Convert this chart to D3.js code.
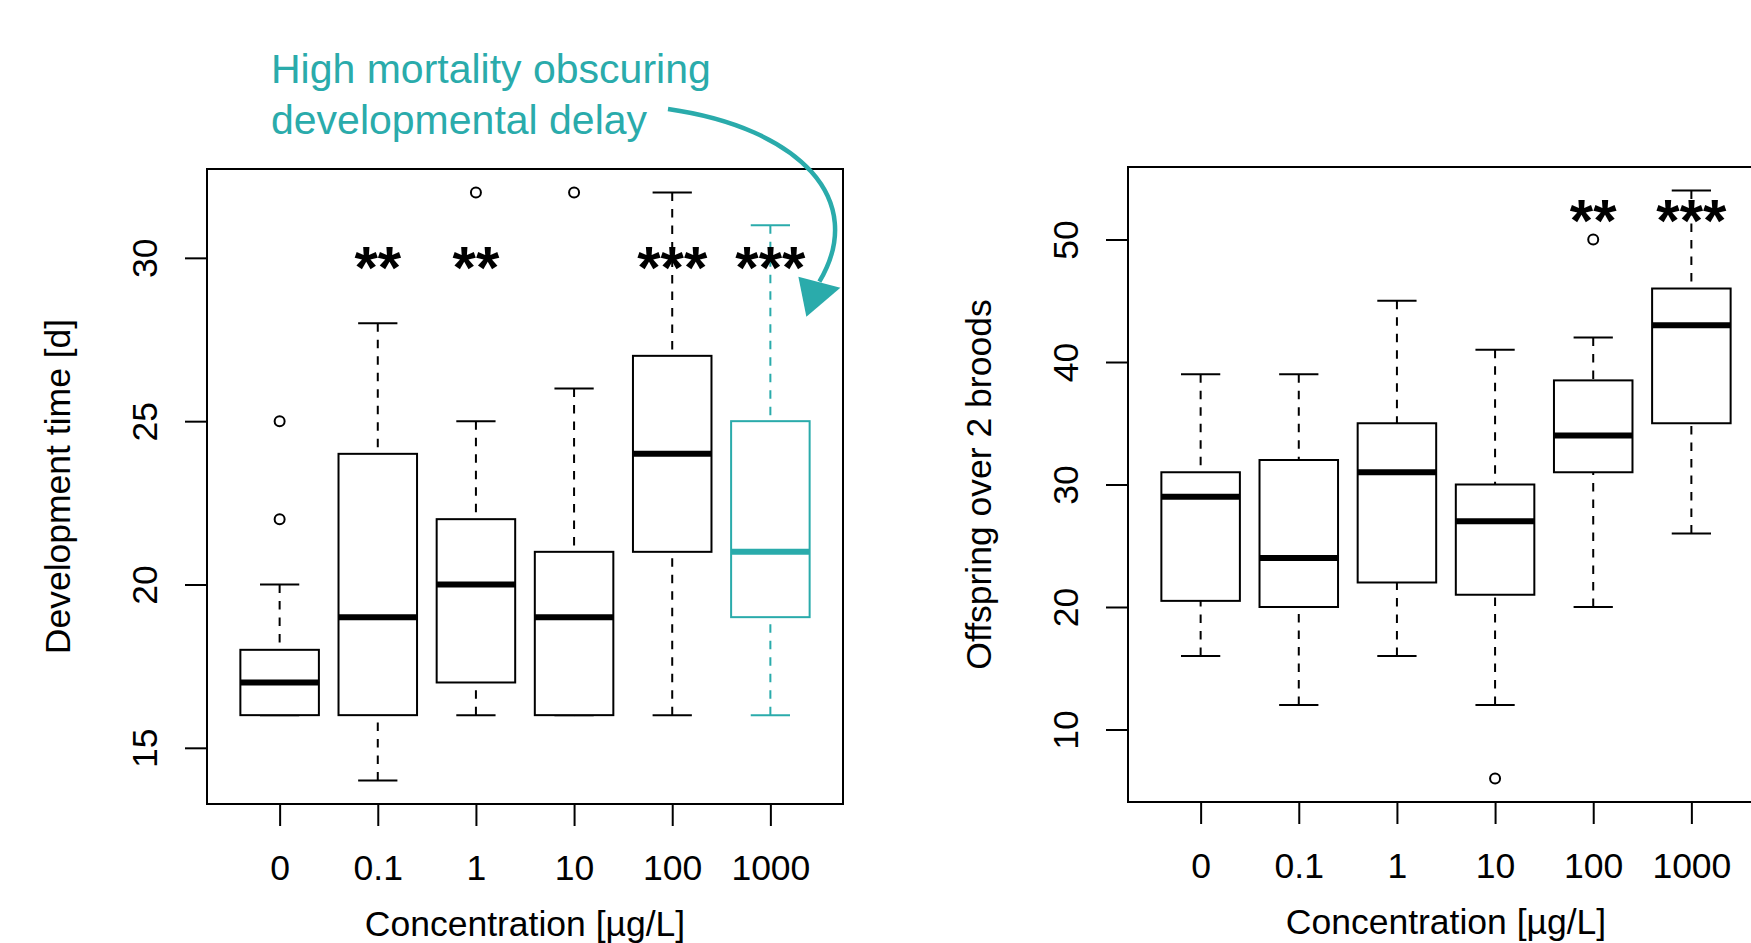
<!DOCTYPE html>
<html>
<head>
  <meta charset="utf-8">
  <title>Development time and offspring boxplots</title>
  <script src="https://cdn.jsdelivr.net/npm/d3@7/dist/d3.min.js"></script>
  <style>
    body { margin: 0; background: #fff; }
    text { font-family: "Liberation Sans", Arial, Helvetica, sans-serif; }
  </style>
</head>
<body>
<svg id="chart" width="1751" height="943"></svg>
<script>
// categories and box statistics
const concentrations = ['0', '0.1', '1', '10', '100', '1000'];

const devLow = [16, 14, 16, 16, 16, 16];
const devQ1 = [16, 16, 17, 16, 21, 19];
const devMedian = [17, 19, 20, 19, 24, 21];
const devQ3 = [18, 24, 22, 21, 27, 25];
const devHigh = [20, 28, 25, 26, 32, 31];
const devOutliers = [[22, 25], [], [32], [32], [], []];
const devStars = ['', '**', '**', '', '***', '***'];
const devTicks = [15, 20, 25, 30];

const offLow = [16, 12, 16, 12, 20, 26];
const offQ1 = [20.5, 20, 22, 21, 31, 35];
const offMedian = [29, 24, 31, 27, 34, 43];
const offQ3 = [31, 32, 35, 30, 38.5, 46];
const offHigh = [39, 39, 45, 41, 42, 54];
const offOutliers = [[], [], [], [6], [50], []];
const offStars = ['', '', '', '', '**', '***'];
const offTicks = [10, 20, 30, 40, 50];

const teal = '#2aabab';
const fontSize = 35.5;
const svg = d3.select('#chart');

function boxplot(opt) {
  const g = svg.append('g');
  const n = opt.cats.length;

  // R style axis extension: 0.5..n+0.5 padded by 4% each side
  const xr = n;
  const x = d3.scaleLinear()
    .domain([0.5 - xr * 0.04, n + 0.5 + xr * 0.04])
    .range([opt.left, opt.right]);
  const lo = d3.min(opt.low.concat(opt.outliers.flat()));
  const hi = d3.max(opt.high.concat(opt.outliers.flat()));
  const yr = hi - lo;
  const y = d3.scaleLinear()
    .domain([lo - yr * 0.04, hi + yr * 0.04])
    .range([opt.bottom, opt.top]);

  const boxW = x(1.4) - x(1);   // half of boxwex 0.8
  const stapleW = x(1.2) - x(1);

  const rows = opt.cats.map((c, i) => ({
    cat: c, pos: i + 1,
    low: opt.low[i], q1: opt.q1[i], med: opt.median[i], q3: opt.q3[i], high: opt.high[i],
    out: opt.outliers[i], star: opt.stars[i],
    color: i === opt.highlight ? teal : '#000'
  }));

  const b = g.selectAll('g.box').data(rows).join('g').attr('class', 'box');

  // dashed whiskers, drawn from whisker end towards the box
  b.append('line')
    .attr('x1', d => x(d.pos)).attr('x2', d => x(d.pos))
    .attr('y1', d => y(d.high)).attr('y2', d => y(d.q3))
    .attr('stroke', d => d.color).attr('stroke-width', 2).attr('stroke-dasharray', '8.5,8');
  b.append('line')
    .attr('x1', d => x(d.pos)).attr('x2', d => x(d.pos))
    .attr('y1', d => y(d.low)).attr('y2', d => y(d.q1))
    .attr('stroke', d => d.color).attr('stroke-width', 2).attr('stroke-dasharray', '8.5,8');

  // staples
  ['high', 'low'].forEach(k => {
    b.append('line')
      .attr('x1', d => x(d.pos) - stapleW).attr('x2', d => x(d.pos) + stapleW)
      .attr('y1', d => y(d[k])).attr('y2', d => y(d[k]))
      .attr('stroke', d => d.color).attr('stroke-width', 2);
  });

  b.append('rect')
    .attr('x', d => x(d.pos) - boxW)
    .attr('width', 2 * boxW)
    .attr('y', d => y(d.q3))
    .attr('height', d => y(d.q1) - y(d.q3))
    .attr('fill', '#fff')
    .attr('stroke', d => d.color).attr('stroke-width', 2);

  b.append('line')
    .attr('x1', d => x(d.pos) - boxW).attr('x2', d => x(d.pos) + boxW)
    .attr('y1', d => y(d.med)).attr('y2', d => y(d.med))
    .attr('stroke', d => d.color).attr('stroke-width', 6);

  b.selectAll('circle').data(d => d.out.map(v => ({ v, pos: d.pos, color: d.color })))
    .join('circle')
    .attr('cx', d => x(d.pos)).attr('cy', d => y(d.v)).attr('r', 5)
    .attr('fill', 'none').attr('stroke', d => d.color).attr('stroke-width', 2);

  // significance stars
  const starSize = 60;
  b.append('text')
    .attr('x', d => x(d.pos))
    .attr('y', d => y(opt.starY) + starSize * 0.5)
    .attr('text-anchor', 'middle')
    .attr('font-size', starSize)
    .attr('font-weight', 'bold')
    .text(d => d.star);

  // frame
  g.append('rect')
    .attr('x', opt.left).attr('y', opt.top)
    .attr('width', opt.right - opt.left).attr('height', opt.bottom - opt.top)
    .attr('fill', 'none').attr('stroke', '#000').attr('stroke-width', 2);

  // x axis
  const xa = g.append('g').attr('transform', `translate(0,${opt.bottom})`)
    .call(d3.axisBottom(x).tickValues(rows.map(d => d.pos)).tickFormat(i => opt.cats[i - 1])
      .tickSize(22));
  xa.select('.domain').remove();
  xa.selectAll('line').attr('stroke-width', 2);
  xa.selectAll('text').attr('font-size', fontSize).attr('font-family', null).attr('dy', null)
    .attr('y', 76).attr('fill', '#000');

  // y axis, labels rotated as in R
  const ya = g.append('g').attr('transform', `translate(${opt.left},0)`)
    .call(d3.axisLeft(y).tickValues(opt.ticks).tickSize(22));
  ya.select('.domain').remove();
  ya.selectAll('line').attr('stroke-width', 2);
  ya.selectAll('text').attr('font-size', fontSize).attr('font-family', null)
    .attr('x', null).attr('dy', null)
    .attr('text-anchor', 'middle').attr('fill', '#000')
    .attr('transform', 'translate(-50,0) rotate(-90)');

  g.append('text')
    .attr('x', (opt.left + opt.right) / 2).attr('y', opt.bottom + 132)
    .attr('text-anchor', 'middle').attr('font-size', fontSize)
    .text(opt.xTitle);

  g.append('text')
    .attr('transform', `translate(${opt.left - 137},${(opt.top + opt.bottom) / 2}) rotate(-90)`)
    .attr('text-anchor', 'middle').attr('font-size', fontSize)
    .text(opt.yTitle);

  return { x, y };
}

const left = boxplot({
  cats: concentrations, low: devLow, q1: devQ1, median: devMedian, q3: devQ3, high: devHigh,
  outliers: devOutliers, stars: devStars, starY: 30, ticks: devTicks, highlight: 5,
  left: 207, right: 843, top: 169, bottom: 804,
  xTitle: 'Concentration [µg/L]', yTitle: 'Development time [d]'
});

boxplot({
  cats: concentrations, low: offLow, q1: offQ1, median: offMedian, q3: offQ3, high: offHigh,
  outliers: offOutliers, stars: offStars, starY: 52.3, ticks: offTicks, highlight: -1,
  left: 1128, right: 1764, top: 167, bottom: 802,
  xTitle: 'Concentration [µg/L]', yTitle: 'Offspring over 2 broods'
});

// annotation
const note = svg.append('g').attr('fill', teal);
note.append('text').attr('x', 271).attr('y', 83).attr('font-size', 41).text('High mortality obscuring');
note.append('text').attr('x', 271).attr('y', 134).attr('font-size', 41).text('developmental delay');

// curved arrow pointing at the 1000 box
const tip = [left.x(6) + 36, left.y(28.2)];
const start = [668, 109];
const shaftEnd = [tip[0] + 13, tip[1] - 35];
svg.append('path')
  .attr('d', `M${start} C800,128 868,200 ${shaftEnd}`)
  .attr('fill', 'none').attr('stroke', teal).attr('stroke-width', 4.5);
svg.append('path')
  .attr('d', `M${tip} L${tip[0] - 8},${tip[1] - 40} L${tip[0] + 34},${tip[1] - 29} Z`)
  .attr('fill', teal);
</script>
</body>
</html>
